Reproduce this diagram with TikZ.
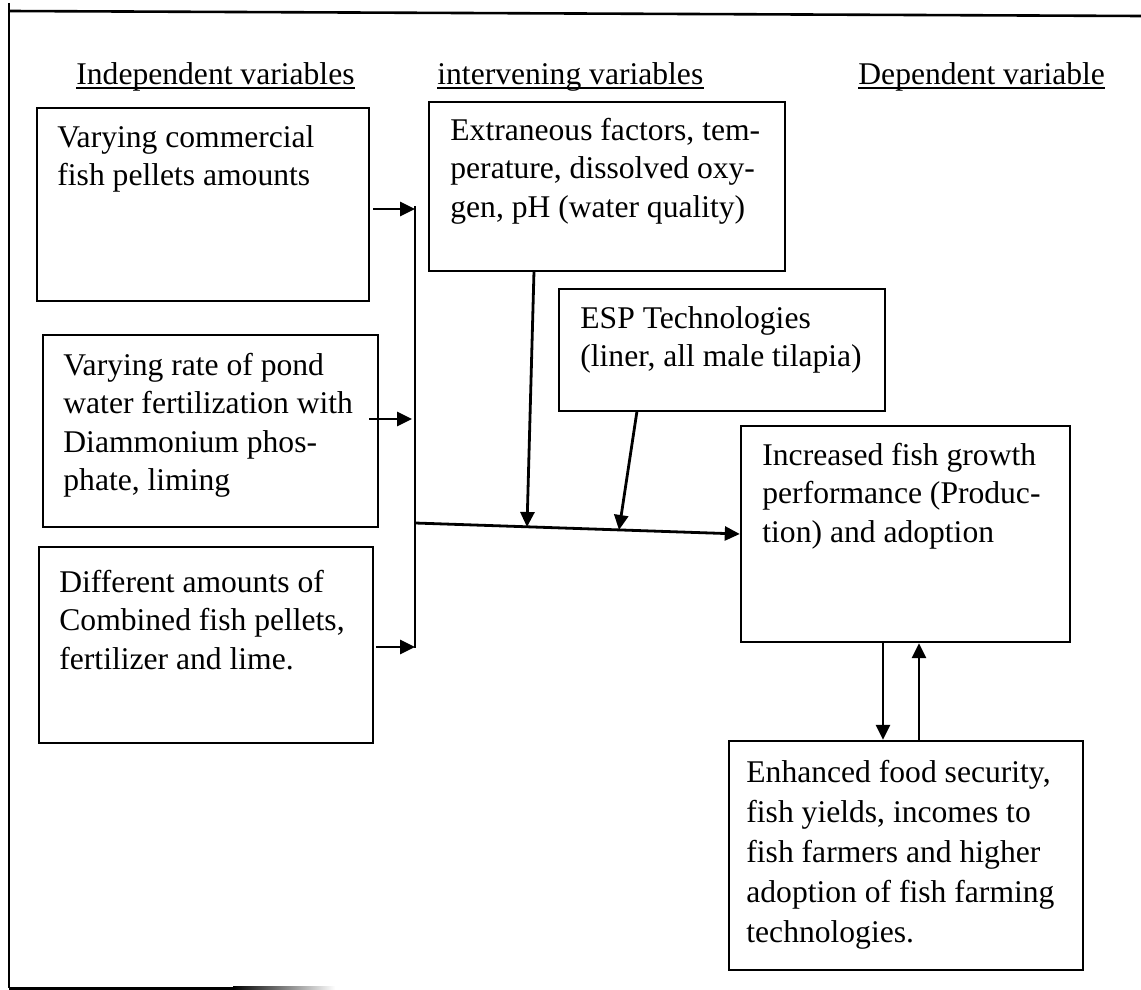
\documentclass[tikz,border=0pt]{standalone}
\usepackage{fontspec}
\setmainfont{Liberation Serif}
\usetikzlibrary{arrows.meta,fit}
\begin{document}
\begin{tikzpicture}[x=0.5pt,y=-0.5pt,
  box/.style={draw, line width=1.2pt, inner sep=0pt},
  txt/.style={anchor=north west, inner sep=0pt, align=left, font=\fontsize{15.8}{19.2}\selectfont},
  hdr/.style={anchor=base west, inner sep=0pt, font=\fontsize{15.8}{19.2}\selectfont},
  uline/.style={line width=1.1pt},
  conn/.style={line width=1.1pt},
  arr/.style={line width=1.4pt, -{Triangle[length=7.5pt,width=7pt]}},
  frame/.style={line width=1.3pt}
]
\useasboundingbox (0,0) rectangle (1141,990);
% frame
\draw[frame] (9,3) -- (9,988);
\draw[frame] (9,11) -- (1141,16);
\fill[black] (9,986.5) rectangle (233,989.5);
\shade[left color=black,right color=white] (233,986.5) rectangle (335,989.5);
% headers
\node[hdr] (h1) at (76,85) {Independent variables};
\node[hdr] (h2) at (437,85) {intervening variables};
\node[hdr] (h3) at (858,85) {Dependent variable};
\foreach \h in {h1,h2,h3}
  \draw[uline] ([yshift=-1.6pt]\h.base west) -- ([yshift=-1.6pt]\h.base east);
% boxes
\node[box, fit={(37,108) (369,301)}] (b1) {};
\node[box, fit={(429,102) (785,271)}] (ext) {};
\node[box, fit={(559,289) (885,411)}] (esp) {};
\node[box, fit={(43,335) (378,527)}] (b2) {};
\node[box, fit={(741,426) (1070,642)}] (inc) {};
\node[box, fit={(39,547) (373,743)}] (b3) {};
\node[box, fit={(729,741) (1083,970)}] (enh) {};
% texts (anchor at top of strut; strut height = 0.7 baselineskip)
\node[txt] (t1) at (57,120) {\strut Varying commercial\\fish pellets amounts};
\node[txt] (text) at (450,113) {\strut Extraneous factors, tem-\\perature, dissolved oxy-\\gen, pH (water quality)};
\node[txt] (tesp) at (580,301) {\strut ESP Technologies\\(liner, all male tilapia)};
\node[txt] (t2) at (63,348) {\strut Varying rate of pond\\water fertilization with\\Diammonium phos-\\phate, liming};
\node[txt] (tinc) at (762,438) {\strut Increased fish growth\\performance (Produc-\\tion) and adoption};
\node[txt] (t3) at (59,565) {\strut Different amounts of\\Combined fish pellets,\\fertilizer and lime.};
\node[txt, font=\fontsize{15.8}{20}\selectfont] (tenh) at (746,754) {\strut Enhanced food security,\\fish yields, incomes to\\fish farmers and higher\\adoption of fish farming\\technologies.};
% bus
\coordinate (bt) at (415,206);
\coordinate (bb) at (415,648);
\draw[conn] (bt) -- (bb);
\coordinate (a1) at (373,209);
\coordinate (a2) at (369,419);
\coordinate (a3) at (376,647);
\draw[arr] (a1) -- (a1 -| bt);
\draw[arr] (a2) -- ([xshift=-1.5pt]a2 -| bt);
\draw[arr] (a3) -- (a3 -| bt);
% main line
\coordinate (j) at (415,523);
\draw[arr] (j) -- (inc.west);
\coordinate (e1) at (534,271);
\coordinate (m1) at (527,527);
\draw[arr] (e1) -- (m1);
\coordinate (e2) at (637,411);
\coordinate (m2) at (619,530);
\draw[arr] (e2) -- (m2);
% feedback arrows
\coordinate (d1) at (883,0);
\coordinate (d2) at (919,0);
\draw[arr] (inc.south -| d1) -- (enh.north -| d1);
\draw[arr] (enh.north -| d2) -- (inc.south -| d2);
\end{tikzpicture}
\end{document}
